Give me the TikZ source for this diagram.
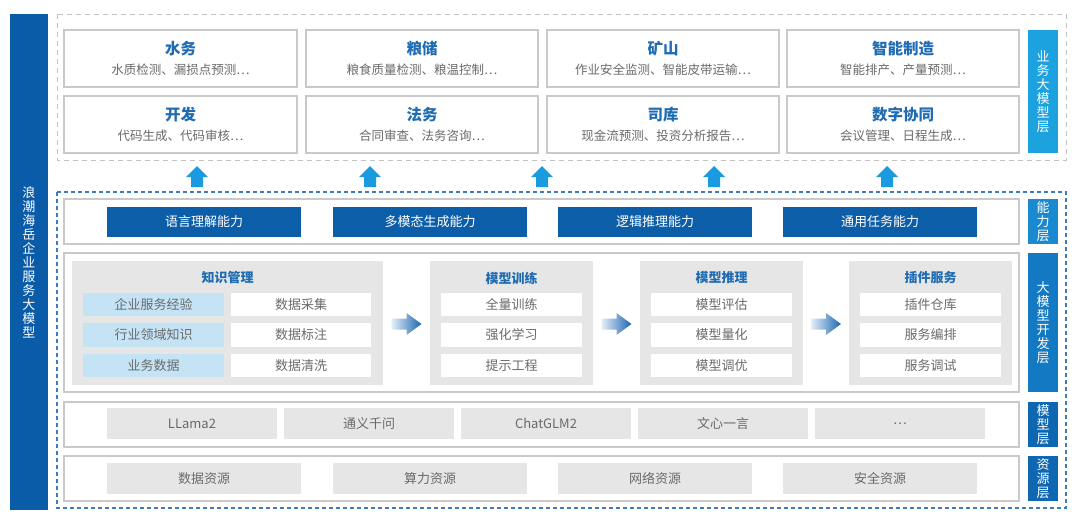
\documentclass[tikz,border=0pt]{standalone}
\usepackage{fontspec}
\setmainfont{Noto Sans CJK SC}
\definecolor{sidebarblue}{HTML}{0B5CA8}
\definecolor{capblue}{HTML}{0D5EA8}
\definecolor{lblA}{HTML}{1BA2DF}
\definecolor{lblB}{HTML}{1A8AD0}
\definecolor{lblC}{HTML}{1379C2}
\definecolor{lblD}{HTML}{0F67B1}
\definecolor{uparrowblue}{HTML}{1A9BE0}
\definecolor{titleblue}{HTML}{1F6CB3}
\definecolor{subgray}{HTML}{6A6A6A}
\definecolor{cellgray}{HTML}{E6E6E6}
\definecolor{cellblue}{HTML}{C4E4F6}
\definecolor{boxline}{HTML}{C9C9C9}
\definecolor{dashblue}{HTML}{3D7CC0}
\definecolor{harrowdark}{HTML}{1C66B0}
\definecolor{harrowlight}{HTML}{E3EEF8}
\newcommand\bx[7]{\node[#1,minimum width={#5-#3},minimum height={#6-#4}] (#2) at ({(#3+#5)/2},{(#4+#6)/2}) {#7};}
\begin{document}
\begin{tikzpicture}[x=1pt,y=-1pt,
  every node/.style={inner sep=0pt,outer sep=0pt},
  bizbox/.style={draw=boxline,line width=1.2pt,fill=white,align=center},
  layerbox/.style={draw=boxline,line width=1.2pt,fill=white},
  capbtn/.style={fill=capblue,text=white,font=\fontsize{13}{15}\selectfont},
  sidelabel/.style={text=white,align=center,font=\fontsize{13}{14}\selectfont},
  panel/.style={fill=cellgray},
  wcell/.style={fill=white,text=subgray,font=\fontsize{13}{15}\selectfont},
  bcell/.style={fill=cellblue,text=subgray,font=\fontsize{13}{15}\selectfont},
  gcell/.style={fill=cellgray,text=subgray,font=\fontsize{13}{15}\selectfont},
  ptitle/.style={text=titleblue,font=\fontsize{13}{15}\selectfont\bfseries},
  uparrow/.pic={\fill[uparrowblue] (-6,10) -- (-6,0) -- (-11,0) -- (0,-11) -- (11,0) -- (6,0) -- (6,10) -- cycle;},
  harrow/.pic={\shade[left color=harrowlight,right color=harrowdark] (-15,-5.5) -- (0,-5.5) -- (0,-11) -- (15,0) -- (0,11) -- (0,5.5) -- (-15,5.5) -- cycle;}
]
\useasboundingbox[fill=white] (0,0) rectangle (1080,523);

% sidebar
\bx{fill=sidebarblue,sidelabel}{side}{10}{14}{48}{510}{浪\\潮\\海\\岳\\企\\业\\服\\务\\大\\模\\型}

% business layer
\draw[boxline!90!gray,line width=1pt,dash pattern=on 5pt off 4pt] (57,14) rectangle (1066,160);
\newcommand\biz[7]{\bx{bizbox}{#1}{#2}{#3}{#4}{#5}{{\fontsize{15.5}{18}\selectfont\bfseries\color{titleblue}#6}\\[7pt]{\fontsize{12.5}{14}\selectfont\color{subgray}#7}}}
\biz{b1}{64}{30}{297}{87}{水务}{水质检测、漏损点预测⋯}
\biz{b2}{306}{30}{538}{87}{粮储}{粮食质量检测、粮温控制⋯}
\biz{b3}{547}{30}{779}{87}{矿山}{作业安全监测、智能皮带运输⋯}
\biz{b4}{787}{30}{1019}{87}{智能制造}{智能排产、产量预测⋯}
\biz{b5}{64}{96}{297}{153}{开发}{代码生成、代码审核⋯}
\biz{b6}{306}{96}{538}{153}{法务}{合同审查、法务咨询⋯}
\biz{b7}{547}{96}{779}{153}{司库}{现金流预测、投资分析报告⋯}
\biz{b8}{787}{96}{1019}{153}{数字协同}{会议管理、日程生成⋯}
\bx{fill=lblA,sidelabel}{lbiz}{1028}{30}{1058}{153}{业\\务\\大\\模\\型\\层}

% up arrows
\foreach \ax in {197,370,542,714,887} \pic at (\ax,177) {uparrow};

% lower dashed frame
\draw[dashblue,line width=1.3pt,dash pattern=on 4pt off 3pt] (57,192) rectangle (1066,508);

% capability layer
\bx{layerbox}{cap}{64}{199}{1019}{244}{}
\bx{capbtn}{c1}{107}{207}{301}{237}{语言理解能力}
\bx{capbtn}{c2}{333}{207}{527}{237}{多模态生成能力}
\bx{capbtn}{c3}{558}{207}{752}{237}{逻辑推理能力}
\bx{capbtn}{c4}{783}{207}{977}{237}{通用任务能力}
\bx{fill=lblB,sidelabel}{lcap}{1028}{199}{1058}{244}{能\\力\\层}

% development layer
\bx{layerbox}{dev}{64}{253}{1019}{392}{}
\bx{panel}{p1}{72}{261}{383}{385}{}
\bx{panel}{p2}{430}{261}{593}{385}{}
\bx{panel}{p3}{640}{261}{803}{385}{}
\bx{panel}{p4}{849}{261}{1012}{385}{}
\node[ptitle] (t1) at (227.5,278) {知识管理};
\node[ptitle] (t2) at (511.5,278) {模型训练};
\node[ptitle] (t3) at (721.5,278) {模型推理};
\node[ptitle] (t4) at (930.5,278) {插件服务};
\bx{bcell}{k1}{83}{293}{224}{316}{企业服务经验}
\bx{bcell}{k2}{83}{323}{224}{347}{行业领域知识}
\bx{bcell}{k3}{83}{354}{224}{377}{业务数据}
\bx{wcell}{k4}{231}{293}{371}{316}{数据采集}
\bx{wcell}{k5}{231}{323}{371}{347}{数据标注}
\bx{wcell}{k6}{231}{354}{371}{377}{数据清洗}
\bx{wcell}{m1}{441}{293}{582}{316}{全量训练}
\bx{wcell}{m2}{441}{323}{582}{347}{强化学习}
\bx{wcell}{m3}{441}{354}{582}{377}{提示工程}
\bx{wcell}{r1}{651}{293}{792}{316}{模型评估}
\bx{wcell}{r2}{651}{323}{792}{347}{模型量化}
\bx{wcell}{r3}{651}{354}{792}{377}{模型调优}
\bx{wcell}{s1}{860}{293}{1001}{316}{插件仓库}
\bx{wcell}{s2}{860}{323}{1001}{347}{服务编排}
\bx{wcell}{s3}{860}{354}{1001}{377}{服务调试}
\path (p1.east) -- (p2.west) coordinate[pos=0.5] (h1);
\path (p2.east) -- (p3.west) coordinate[pos=0.5] (h2);
\path (p3.east) -- (p4.west) coordinate[pos=0.5] (h3);
\pic at ([yshift=-1pt]h1) {harrow};
\pic at ([yshift=-1pt]h2) {harrow};
\pic at ([yshift=-1pt]h3) {harrow};
\bx{fill=lblC,sidelabel}{ldev}{1028}{253}{1058}{392}{大\\模\\型\\开\\发\\层}

% model layer
\bx{layerbox}{mod}{64}{402}{1019}{447}{}
\bx{gcell}{g1}{107}{408}{277}{439}{LLama2}
\bx{gcell}{g2}{284}{408}{454}{439}{通义千问}
\bx{gcell}{g3}{461}{408}{631}{439}{ChatGLM2}
\bx{gcell}{g4}{638}{408}{808}{439}{文心一言}
\bx{gcell}{g5}{815}{408}{985}{439}{⋯}
\bx{fill=lblD,sidelabel}{lmod}{1028}{402}{1058}{447}{模\\型\\层}

% resource layer
\bx{layerbox}{res}{64}{456}{1019}{501}{}
\bx{gcell}{z1}{107}{463}{301}{494}{数据资源}
\bx{gcell}{z2}{333}{463}{527}{494}{算力资源}
\bx{gcell}{z3}{558}{463}{752}{494}{网络资源}
\bx{gcell}{z4}{783}{463}{977}{494}{安全资源}
\bx{fill=lblD,sidelabel}{lres}{1028}{456}{1058}{501}{资\\源\\层}
\end{tikzpicture}
\end{document}
